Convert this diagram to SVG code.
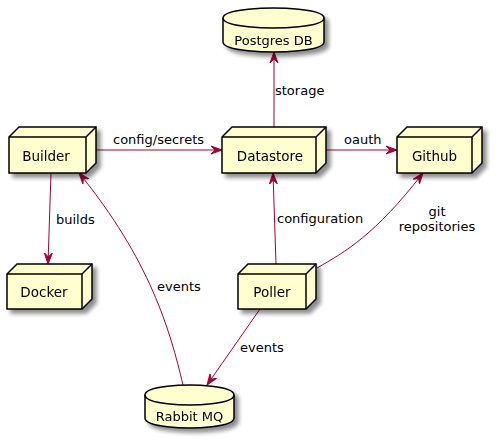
<svg xmlns="http://www.w3.org/2000/svg" width="503" height="440" viewBox="0 0 503 440">
<defs>
<filter id="sh" x="-20%" y="-20%" width="150%" height="150%">
<feGaussianBlur in="SourceAlpha" stdDeviation="2"/>
<feOffset dx="4" dy="4" result="b"/>
<feComponentTransfer><feFuncA type="linear" slope="0.45"/></feComponentTransfer>
<feMerge><feMergeNode/><feMergeNode in="SourceGraphic"/></feMerge>
</filter>
<marker id="ah" viewBox="0 0 12 10" refX="11" refY="5" markerWidth="12" markerHeight="10" markerUnits="userSpaceOnUse" orient="auto">
<path d="M0,1 L11,5 L0,9 L4,5 Z" fill="#A80036" stroke="#A80036" stroke-width="1"/>
</marker>
</defs>
<style>
.n{fill:#FEFECE;stroke:#000;stroke-width:1.5}
.l{fill:none;stroke:#000;stroke-width:1.5}
.t{font-family:"DejaVu Sans",sans-serif;font-size:13.5px;fill:#000;text-anchor:middle}
.d{font-family:"DejaVu Sans",sans-serif;font-size:13px;fill:#000;text-anchor:middle}
.e{font-family:"DejaVu Sans",sans-serif;font-size:13px;fill:#000}
.c{fill:none;stroke:#A80036;stroke-width:1;marker-end:url(#ah)}
</style>
<rect width="503" height="440" fill="#fff"/>
<g id="connectors">
<path class="c" d="M96,150 L222,150"/>
<text class="e" x="113" y="144">config/secrets</text>
<path class="c" d="M51,173 L48,264"/>
<text class="e" x="56" y="224">builds</text>
<path class="c" d="M183,385 C170,330 150,260 79,173"/>
<text class="e" x="157" y="291">events</text>
<path class="c" d="M274,127 L274,52"/>
<text class="e" x="275" y="95">storage</text>
<path class="c" d="M326,150 L397,150"/>
<text class="e" x="344" y="144">oauth</text>
<path class="c" d="M276,264 L273,173"/>
<text class="e" x="277" y="223">configuration</text>
<path class="c" d="M317,268 C345,252 375,235 423,173"/>
<text class="d" x="437" y="216">git</text>
<text class="d" x="437" y="231">repositories</text>
<path class="c" d="M260,309 L207,385"/>
<text class="e" x="240" y="352">events</text>
</g>
<g id="builder" filter="url(#sh)">
<path class="n" d="M9,137 L19,127 L96,127 L96,163 L86,173 L9,173 Z"/>
<path class="l" d="M9,137 L86,137 L96,127 M86,137 L86,173"/>
<text class="t" x="46" y="161">Builder</text>
</g>
<g id="docker" filter="url(#sh)">
<path class="n" d="M7,274 L17,264 L92,264 L92,299 L82,309 L7,309 Z"/>
<path class="l" d="M7,274 L82,274 L92,264 M82,274 L82,309"/>
<text class="t" x="44" y="297">Docker</text>
</g>
<g id="datastore" filter="url(#sh)">
<path class="n" d="M222,137 L232,127 L326,127 L326,163 L316,173 L222,173 Z"/>
<path class="l" d="M222,137 L316,137 L326,127 M316,137 L316,173"/>
<text class="t" x="270" y="161">Datastore</text>
</g>
<g id="github" filter="url(#sh)">
<path class="n" d="M397,137 L407,127 L482,127 L482,163 L472,173 L397,173 Z"/>
<path class="l" d="M397,137 L472,137 L482,127 M472,137 L472,173"/>
<text class="t" x="434.5" y="161">Github</text>
</g>
<g id="poller" filter="url(#sh)">
<path class="n" d="M238,274 L248,264 L316,264 L316,299 L306,309 L238,309 Z"/>
<path class="l" d="M238,274 L306,274 L316,264 M306,274 L306,309"/>
<text class="t" x="272" y="297">Poller</text>
</g>
<g id="postgres" filter="url(#sh)">
<path class="n" d="M223,18 C223,8 273.5,8 273.5,8 C273.5,8 324,8 324,18 L324,42 C324,52 273.5,52 273.5,52 C273.5,52 223,52 223,42 Z"/>
<path class="l" d="M223,18 C223,28 273.5,28 273.5,28 C273.5,28 324,28 324,18"/>
<text class="d" x="273.5" y="45">Postgres DB</text>
</g>
<g id="rabbitmq" filter="url(#sh)">
<path class="n" d="M145,395 C145,385 189.5,385 189.5,385 C189.5,385 234,385 234,395 L234,418 C234,428 189.5,428 189.5,428 C189.5,428 145,428 145,418 Z"/>
<path class="l" d="M145,395 C145,405 189.5,405 189.5,405 C189.5,405 234,405 234,395"/>
<text class="d" x="189.5" y="421">Rabbit MQ</text>
</g>
</svg>
